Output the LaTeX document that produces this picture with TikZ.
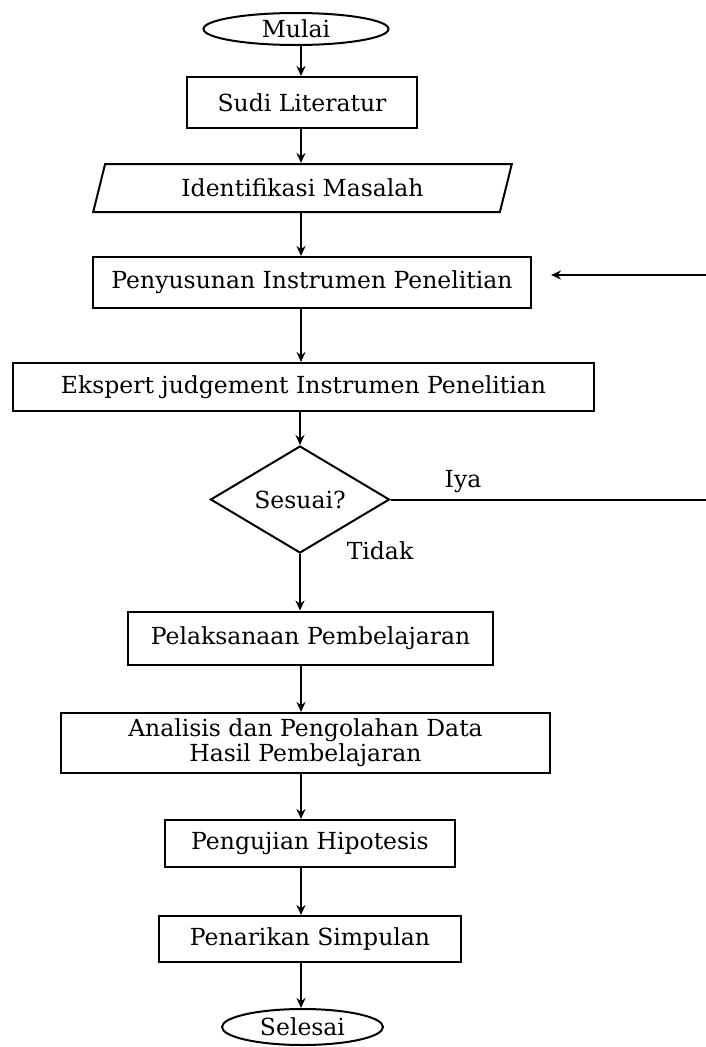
\documentclass[tikz,border=0pt]{standalone}
\usepackage{fontspec}
\setmainfont{DejaVu Serif}
\usepackage{tikz}
\usetikzlibrary{arrows.meta,shapes.geometric}

\begin{document}
\begin{tikzpicture}[x=1pt,y=-1pt,
    >={Stealth[length=10pt,width=9pt]},
    every node/.style={font=\fontsize{23.5}{25}\selectfont},
    kotak/.style={draw,line width=2pt,rectangle,inner sep=2pt,align=center},
    terminal/.style={draw,line width=2pt,ellipse,inner sep=0pt},
    masukan/.style={draw,line width=2pt,trapezium,trapezium left angle=68,
      trapezium right angle=112,trapezium stretches=true,inner sep=0pt},
    keputusan/.style={draw,line width=2pt,diamond,aspect=1.67,inner sep=0pt},
    panah/.style={->,line width=2pt},
    garis/.style={line width=2pt}]
    \useasboundingbox (0,0) rectangle (706,1047);

    % langkah-langkah
    \node[terminal,minimum width=185,minimum height=32] (mulai) at (296,29) {Mulai};
    \node[kotak,minimum width=230,minimum height=51] (sudi) at (302,102.5) {Sudi Literatur};
    \node[masukan,minimum width=419,minimum height=48] (ident) at (302.5,188) {Identifikasi Masalah};
    \node[kotak,minimum width=438,minimum height=51] (susun) at (312,282.5) {Penyusunan Instrumen Penelitian};
    \node[kotak,minimum width=581,minimum height=48] (ekspert) at (303.5,387) {Ekspert judgement Instrumen Penelitian};
    \node[keputusan,minimum width=179,minimum height=107] (sesuai) at (300,499.5) {Sesuai?};
    \node[kotak,minimum width=365,minimum height=53] (laksana) at (310.5,638) {Pelaksanaan Pembelajaran};
    \node[kotak,minimum width=489,minimum height=60] (analisis) at (305.5,743) {Analisis dan Pengolahan Data\\Hasil Pembelajaran};
    \node[kotak,minimum width=290,minimum height=47] (uji) at (310,843.5) {Pengujian Hipotesis};
    \node[kotak,minimum width=302,minimum height=46] (tarik) at (310,939) {Penarikan Simpulan};
    \node[terminal,minimum width=161,minimum height=36] (selesai) at (302.5,1027) {Selesai};

    \node (iya) at (463,482) {Iya};
    \node (tidak) at (380,551) {Tidak};

    % jalur utama
    \coordinate (sumbu) at (301,0);
    \draw[panah] (mulai.south -| sumbu) -- (sudi.north -| sumbu);
    \draw[panah] (sudi.south -| sumbu) -- (ident.north -| sumbu);
    \draw[panah] (ident.south -| sumbu) -- (susun.north -| sumbu);
    \draw[panah] (susun.south -| sumbu) -- (ekspert.north -| sumbu);
    \draw[panah] (ekspert.south -| sesuai) -- (sesuai.north);
    \draw[panah] (sesuai.south) -- (laksana.north -| sesuai);
    \draw[panah] (laksana.south -| sumbu) -- (analisis.north -| sumbu);
    \draw[panah] (analisis.south -| sumbu) -- (uji.north -| sumbu);
    \draw[panah] (uji.south -| sumbu) -- (tarik.north -| sumbu);
    \draw[panah] (tarik.south -| sumbu) -- (selesai.north -| sumbu);

    % umpan balik
    \coordinate (kanan1) at (706,275);
    \coordinate (ujung) at (551,275);
    \coordinate (kanan2) at (706,500);
    \draw[garis] (sesuai.east) -- (sesuai.east -| kanan2);
    \draw[panah] (kanan1) -- (ujung);
\end{tikzpicture}
\end{document}
